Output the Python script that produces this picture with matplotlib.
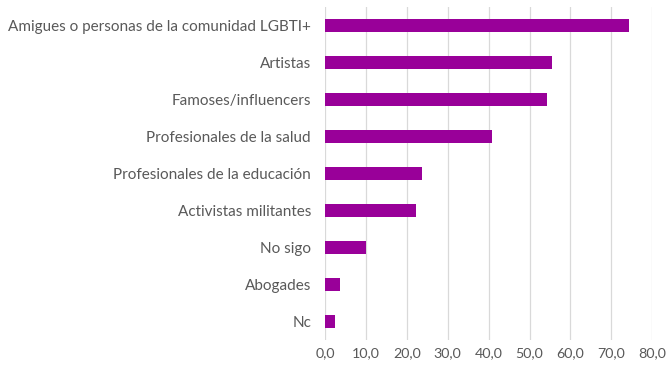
import matplotlib
matplotlib.use("Agg")
import matplotlib.pyplot as plt
from matplotlib.ticker import FuncFormatter, MultipleLocator

categories = [
    "Amigues o personas de la comunidad LGBTI+",
    "Artistas",
    "Famoses/influencers",
    "Profesionales de la salud",
    "Profesionales de la educación",
    "Activistas militantes",
    "No sigo",
    "Abogades",
    "Nc",
]
values = [74.2, 55.6, 54.3, 40.8, 23.6, 22.2, 10.0, 3.7, 2.5]

plt.rcParams['font.family'] = ['Lato', 'DejaVu Sans']

fig = plt.figure(figsize=(6.7, 3.75), dpi=100)
ax = fig.add_axes([0.485, 0.093, 0.4885, 0.888])

y = list(range(len(categories)))
ax.barh(y, values, height=0.36, color="#990099", zorder=3)

ax.set_ylim(len(categories) - 0.5, -0.5)
ax.set_yticks(y)
ax.set_yticklabels(categories, fontsize=11, color="#595959")
ax.tick_params(axis="y", length=0, pad=10)

ax.set_xlim(0, 80)
ax.xaxis.set_major_locator(MultipleLocator(10))
ax.xaxis.set_major_formatter(FuncFormatter(lambda v, _: f"{v:.1f}".replace(".", ",")))
ax.tick_params(axis="x", length=0, labelsize=10.3, labelcolor="#595959", pad=5)

ax.grid(axis="x", color="#d9d9d9", linewidth=0.9, zorder=0)
for s in ax.spines.values():
    s.set_visible(False)

fig.savefig("out.png", dpi=100)
